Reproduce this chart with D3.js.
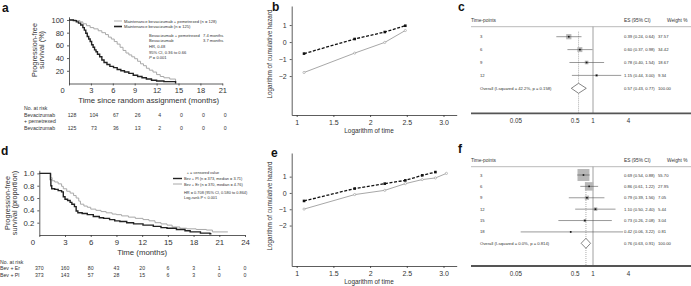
<!DOCTYPE html>
<html>
<head>
<meta charset="utf-8">
<script src="https://cdn.jsdelivr.net/npm/d3@7"></script>
<style>
  body { margin: 0; background: #fff; }
  svg { display: block; font-family: "Liberation Sans", Arial, sans-serif; }
  .axis path, .axis line { stroke: #333; stroke-width: 0.8; }
  .axis text { fill: #333; font-family: "Liberation Sans", Arial, sans-serif; }
</style>
</head>
<body>
<svg id="fig" width="691" height="286"></svg>
<script>
// ---- panel a : Kaplan-Meier, maintenance trial ----
const aXTicks = [0, 3, 6, 9, 12, 15, 18, 21];
const aYTicks = [20, 40, 60, 80, 100];
// [months, % progression-free]
const aPem = [[0,100],[1.0,99],[1.5,97],[1.9,94],[2.4,91],[2.9,88],[3.4,86],[4.0,83],[4.5,80],[5.0,77],[5.4,73],[5.8,70],[6.2,66],[6.6,62],[7.0,57],[7.4,52],[7.8,48],[8.2,45],[8.6,42],[9.0,39],[9.4,35],[9.8,31],[10.2,28],[10.6,24],[11.0,21],[11.5,18],[12.0,14],[12.5,11],[13.0,9],[13.8,7],[14.6,0]];
const aBev = [[0,100],[0.6,99],[1.0,97],[1.3,95],[1.6,92],[1.9,88],[2.1,84],[2.3,79],[2.5,74],[2.7,70],[2.9,66],[3.1,61],[3.3,57],[3.5,53],[3.7,50],[3.9,46],[4.2,42],[4.5,37],[4.8,33],[5.2,30],[5.6,27],[6.1,25],[6.6,22],[7.1,20],[7.6,18],[8.2,16],[8.8,13],[9.4,11],[10.0,9],[10.6,7],[11.3,5],[12.0,4],[13.0,3],[14.6,0]];
const aRiskPem = [128, 104, 67, 26, 4, 0, 0, 0];
const aRiskBev = [125, 73, 36, 13, 2, 0, 0, 0];
const aLegend = ['Maintenance bevacizumab + pemetrexed (n = 128)', 'Maintenance bevacizumab (n = 125)'];
const aStats = [['Bevacizumab + pemetrexed', '7.4 months'], ['Bevacizumab', '3.7 months'], ['HR, 0.48', ''], ['95% CI, 0.36 to 0.66', ''], ['P = 0.001', '']];

// ---- panel d : Kaplan-Meier, Bev + Er vs Bev + Pl ----
const dXTicks = [0, 3, 6, 9, 12, 15, 18, 21, 24];
const dYTicks = [0.2, 0.4, 0.6, 0.8, 1.0];
const dEr = [[0,1],[1.3,1],[1.35,0.93],[1.5,0.88],[1.8,0.86],[2.2,0.83],[2.6,0.79],[2.8,0.75],[3.2,0.71],[3.6,0.68],[4.0,0.64],[4.3,0.6],[4.6,0.55],[4.8,0.5],[5.2,0.47],[5.6,0.45],[6.0,0.42],[6.6,0.40],[7.2,0.38],[7.8,0.36],[8.5,0.34],[9.0,0.33],[9.6,0.31],[10.4,0.29],[11.2,0.27],[12.1,0.25],[12.8,0.23],[13.5,0.20],[14.2,0.18],[14.9,0.16],[15.5,0.13],[16.4,0.11],[17.2,0.10],[18.3,0.09],[19.5,0.08],[20.2,0.05],[22.0,0.05]];
const dPl = [[0,1],[1.25,1],[1.3,0.9],[1.35,0.8],[1.45,0.75],[1.8,0.74],[2.2,0.72],[2.6,0.70],[2.8,0.62],[3.0,0.58],[3.3,0.56],[3.6,0.53],[3.8,0.50],[4.1,0.46],[4.3,0.39],[4.5,0.36],[5.0,0.35],[5.6,0.33],[6.3,0.30],[7.0,0.28],[7.5,0.27],[8.2,0.25],[8.8,0.23],[9.4,0.22],[10.2,0.20],[11.0,0.18],[12.1,0.16],[13.3,0.14],[14.2,0.12],[14.9,0.11],[16.0,0.09],[17.0,0.07],[17.6,0.05],[18.8,0.03],[19.9,0.02],[20.0,0.01]];
const dRiskEr = [370, 160, 80, 43, 20, 6, 3, 1, 0];
const dRiskPl = [373, 143, 57, 28, 15, 6, 3, 0, 0];
const dLegend = ['Bev + Pl (n = 373, median = 3.71)', 'Bev + Er (n = 370, median = 4.76)'];
const dStats = ['HR = 0.708 (95% CI, 0.580 to 0.864)', 'Log-rank P < 0.001'];

// ---- panels b, e : log cumulative hazard ----
const hazTicksX = [1, 1.5, 2, 2.5, 3.0];
const hazTicksY = [-2, -1, 0, 1];
const bLogT = [1.10, 1.79, 2.20, 2.48];
const bBlack = [-0.68, 0.18, 0.59, 0.96];
const bGrey = [-1.79, -0.65, -0.02, 0.68];
const eLogTBlack = [1.10, 1.79, 2.20, 2.48, 2.71, 2.89];
const eBlack = [-0.49, 0.27, 0.57, 0.77, 1.08, 1.28];
const eLogTGrey = [1.10, 1.79, 2.20, 2.48, 2.71, 2.89, 3.04];
const eGrey = [-0.99, -0.10, 0.16, 0.57, 0.82, 0.92, 1.20];

// ---- panels c, f : forest plots ----
const forestTicks = [0.05, 0.5, 1, 4];
const cLabels = ['3', '6', '9', '12'];
const cES = [0.39, 0.60, 0.78, 1.15];
const cLo = [0.24, 0.37, 0.40, 0.44];
const cHi = [0.64, 0.98, 1.54, 3.00];
const cW = [37.57, 34.42, 18.67, 9.34];
const cOverall = [0.57, 0.43, 0.77];
const cOverallLabel = 'Overall (I-squared = 42.2%, p = 0.158)';
const fLabels = ['3', '6', '9', '12', '15', '18'];
const fES = [0.69, 0.86, 0.79, 1.10, 0.73, 0.42];
const fLo = [0.54, 0.61, 0.39, 0.50, 0.26, 0.06];
const fHi = [0.88, 1.22, 1.56, 2.40, 2.08, 3.22];
const fW = [55.70, 27.95, 7.05, 5.44, 3.04, 0.81];
const fOverall = [0.76, 0.63, 0.91];
const fOverallLabel = 'Overall (I-squared = 0.0%, p = 0.814)';

const svg = d3.select('#fig');
const ink = '#333', grey = '#a8a8a8';

function label(g, x, y, s, size, opts = {}) {
  const t = g.append('text').attr('x', x).attr('y', y)
    .attr('font-size', size).attr('fill', opts.fill || ink)
    .attr('text-anchor', opts.anchor || 'start').text(s);
  if (opts.weight) t.attr('font-weight', opts.weight);
  if (opts.rotate) t.attr('transform', `rotate(-90,${x},${y})`);
  return t;
}

// panel letters
[['a',2,12],['b',272,11],['c',458,11],['d',1,155],['e',271,157],['f',458,153]].forEach(([s,x,y]) =>
  label(svg, x, y, s, 12, {weight: 'bold', fill: '#111'}));

// ---------- Kaplan-Meier panels ----------
function drawKM(cfg) {
  const g = svg.append('g');
  const x = d3.scaleLinear(cfg.xDomain, cfg.xRange);
  const y = d3.scaleLinear(cfg.yDomain, cfg.yRange);

  g.append('g').attr('class', 'axis').attr('transform', `translate(0,${cfg.yRange[0]})`)
    .call(d3.axisBottom(x).tickValues(cfg.xTicks).tickSize(2).tickSizeOuter(0).tickPadding(2))
    .call(a => a.selectAll('text').attr('font-size', cfg.tickFont))
    .call(a => a.selectAll('.tick').filter(d => d === 0).select('text').attr('x', -7));
  g.append('g').attr('class', 'axis').attr('transform', `translate(${cfg.xRange[0]},0)`)
    .call(d3.axisLeft(y).tickValues(cfg.yTicks).tickSize(2).tickSizeOuter(0).tickPadding(3)
      .tickFormat(cfg.yFormat))
    .call(a => a.selectAll('text').attr('font-size', cfg.tickFont));

  const line = d3.line().curve(d3.curveStepAfter).x(d => x(d[0])).y(d => y(d[1]));
  g.append('path').datum(cfg.greyCurve).attr('d', line)
    .attr('fill', 'none').attr('stroke', grey).attr('stroke-width', 1);
  g.append('path').datum(cfg.blackCurve).attr('d', line)
    .attr('fill', 'none').attr('stroke', '#222').attr('stroke-width', 1.4);

  // axis titles
  label(g, (cfg.xRange[0] + cfg.xRange[1]) / 2 + cfg.xTitleShift, cfg.xTitleY, cfg.xTitle, cfg.titleFont, {anchor: 'middle'});
  cfg.yTitle.forEach((s, i) =>
    label(g, cfg.yTitleX + i * 6.5, cfg.yTitleY, s, cfg.titleFont - 0.5, {anchor: 'middle', rotate: true}));

  // number at risk
  label(g, cfg.riskX, cfg.riskY[0], 'No. at risk', 5.2);
  cfg.riskRows.forEach((row, r) => {
    row.name.forEach((n, k) => label(g, cfg.riskX, cfg.riskY[r + 1] + k * 6, n, 5.2));
    row.vals.forEach((v, i) =>
      label(g, x(cfg.xTicks[i]) + cfg.riskShift, cfg.riskY[r + 1], v, 5.2, {anchor: 'middle'}));
  });
  return {g, x, y};
}

// panel a
const pa = drawKM({
  xDomain: [0, 21], xRange: [69, 222.3], yDomain: [0, 105], yRange: [83.5, 16.8],
  xTicks: aXTicks, yTicks: aYTicks, yFormat: d => d, tickFont: 7.5, titleFont: 7.8,
  greyCurve: aPem, blackCurve: aBev,
  xTitle: 'Time since random assignment (months)', xTitleY: 102.5, xTitleShift: 3,
  yTitle: ['Progression-free', 'survival (%)'], yTitleX: 37, yTitleY: 50,
  riskX: 24, riskY: [110, 116.5, 130], riskShift: 3,
  riskRows: [{name: ['Bevacizumab', '+ pemetrexed'], vals: aRiskPem}, {name: ['Bevacizumab'], vals: aRiskBev}]
});
// panel a legend
[[grey, 0.9], ['#222', 1.6]].forEach(([c, w], i) => {
  pa.g.append('line').attr('x1', 114).attr('x2', 122).attr('y1', 21 + i * 5.5).attr('y2', 21 + i * 5.5)
    .attr('stroke', c).attr('stroke-width', w);
  label(pa.g, 124, 22.5 + i * 5.5, aLegend[i], 4.1);
});
aStats.forEach(([l, r], i) => {
  const yy = [36.5, 42, 48, 53.5, 59][i];
  const t = label(pa.g, 149, yy, '', 4.1);
  if (l.startsWith('P')) {
    t.append('tspan').attr('font-style', 'italic').text('P');
    t.append('tspan').text(l.slice(1));
  } else t.text(l);
  if (r) label(pa.g, 203, yy, r, 4.1);
});

// panel d
const pd = drawKM({
  xDomain: [0, 24], xRange: [39.3, 245], yDomain: [0, 1.05], yRange: [235, 170.3],
  xTicks: dXTicks, yTicks: dYTicks, yFormat: d3.format('.1f'), tickFont: 7.8, titleFont: 7.8,
  greyCurve: dEr, blackCurve: dPl,
  xTitle: 'Time (months)', xTitleY: 255, xTitleShift: 0,
  yTitle: ['Progression-free', 'survival (proportion)'], yTitleX: 10, yTitleY: 203,
  riskX: 0, riskY: [263.5, 270, 277], riskShift: 0,
  riskRows: [{name: ['Bev + Er'], vals: dRiskEr}, {name: ['Bev + Pl'], vals: dRiskPl}]
});
label(pd.g, 203, 173.5, '+ = censored value', 3.8, {anchor: 'middle'});
[['#222', 1.4], [grey, 1]].forEach(([c, w], i) => {
  pd.g.append('line').attr('x1', 173).attr('x2', 182).attr('y1', 178.5 + i * 5.5).attr('y2', 178.5 + i * 5.5)
    .attr('stroke', c).attr('stroke-width', w);
  label(pd.g, 184, 180 + i * 5.5, dLegend[i], 3.9);
});
label(pd.g, 184, 193.5, dStats[0], 3.9);
label(pd.g, 184, 198.5, dStats[1], 3.9);

// ---------- log cumulative hazard panels ----------
function drawHaz(cfg) {
  const g = svg.append('g');
  const x = d3.scaleLinear([0.932, 3.18], [291.7, 456.7]);
  const y = d3.scaleLinear(cfg.yDomain, cfg.yRange);
  g.append('g').attr('class', 'axis').attr('transform', `translate(0,${cfg.yRange[0]})`)
    .call(d3.axisBottom(x).tickValues(hazTicksX).tickSize(2).tickSizeOuter(0).tickPadding(3)
      .tickFormat(d => d === 3 ? '3.0' : d))
    .call(a => a.selectAll('text').attr('font-size', 7));
  g.append('g').attr('class', 'axis').attr('transform', `translate(291.7,0)`)
    .call(d3.axisLeft(y).tickValues(hazTicksY).tickSize(2).tickSizeOuter(0).tickPadding(3)
      .tickFormat(d => d < 0 ? '\u2212' + (-d) : d))
    .call(a => a.selectAll('text').attr('font-size', 7));

  const line = d3.line().x(d => x(d[0])).y(d => y(d[1]));
  const grey2 = d3.zip(cfg.greyX, cfg.greyY), black2 = d3.zip(cfg.blackX, cfg.blackY);
  g.append('path').datum(grey2).attr('d', line).attr('fill', 'none').attr('stroke', grey).attr('stroke-width', 1);
  g.selectAll('.gm').data(grey2).join('circle').attr('cx', d => x(d[0])).attr('cy', d => y(d[1]))
    .attr('r', 1.1).attr('fill', '#fff').attr('stroke', '#999').attr('stroke-width', 0.6);
  g.append('path').datum(black2).attr('d', line).attr('fill', 'none').attr('stroke', '#111')
    .attr('stroke-width', 1.3).attr('stroke-dasharray', '3,1.6');
  g.selectAll('.bm').data(black2).join('rect').attr('x', d => x(d[0]) - 1.3).attr('y', d => y(d[1]) - 1.3)
    .attr('width', 2.6).attr('height', 2.6).attr('fill', '#111');

  label(g, 369, cfg.yRange[0] + 18, 'Logarithm of time', 6.4, {anchor: 'middle'});
  label(g, 272, cfg.yTitleY, 'Logarithm of cumulative hazard', 6.4, {anchor: 'middle', rotate: true});
}
drawHaz({yDomain: [-4.29, 2.12], yRange: [115, 6], yTitleY: 54,
  blackX: bLogT, blackY: bBlack, greyX: bLogT, greyY: bGrey});
drawHaz({yDomain: [-4.48, 2.45], yRange: [266, 153], yTitleY: 206,
  blackX: eLogTBlack, blackY: eBlack, greyX: eLogTGrey, greyY: eGrey});

// ---------- forest plots ----------
function drawForest(cfg) {
  const g = svg.append('g');
  const x = d3.scaleLog([0.05, 1], [516, 593]);
  const y = d3.scalePoint(cfg.labels.concat(['Overall']), cfg.rowRange);
  const left = 471, right = 691;

  label(g, left, cfg.headY, 'Time-points', 4.8);
  label(g, 624, cfg.headY, 'ES (95% CI)', 4.8);
  label(g, 667, cfg.headY, 'Weight %', 4.8);
  g.append('line').attr('x1', left).attr('x2', right).attr('y1', cfg.lineY).attr('y2', cfg.lineY)
    .attr('stroke', '#bbb').attr('stroke-width', 1);

  // reference line at 1 and dashed line at overall estimate
  g.append('line').attr('x1', x(1)).attr('x2', x(1)).attr('y1', cfg.lineY).attr('y2', cfg.axisY)
    .attr('stroke', '#888').attr('stroke-width', 0.8);
  g.append('line').attr('x1', x(cfg.overall[0])).attr('x2', x(cfg.overall[0]))
    .attr('y1', y(cfg.labels[0]) - 5).attr('y2', cfg.axisY)
    .attr('stroke', '#777').attr('stroke-width', 0.6).attr('stroke-dasharray', '1,1');

  cfg.labels.forEach((lab, i) => {
    const yy = y(lab);
    const side = cfg.boxK * Math.sqrt(cfg.w[i]);
    g.append('rect').attr('x', x(cfg.es[i]) - side / 2).attr('y', yy - side / 2)
      .attr('width', side).attr('height', side).attr('fill', '#b8b8b8');
    g.append('line').attr('x1', x(cfg.lo[i])).attr('x2', x(cfg.hi[i])).attr('y1', yy).attr('y2', yy)
      .attr('stroke', '#555').attr('stroke-width', 0.6);
    g.append('rect').attr('x', x(cfg.es[i]) - 0.8).attr('y', yy - 0.8).attr('width', 1.6).attr('height', 1.6)
      .attr('fill', '#111');
    label(g, 480, yy + 1.5, lab, 4.2);
    label(g, 624, yy + 1.5, `${cfg.es[i].toFixed(2)} (${cfg.lo[i].toFixed(2)}, ${cfg.hi[i].toFixed(2)})`, 4.2);
    label(g, 658, yy + 1.5, cfg.w[i].toFixed(2), 4.2);
  });
  const yo = y('Overall');
  const [e, lo, hi] = cfg.overall;
  g.append('path').attr('d', `M${x(lo)},${yo}L${x(e)},${yo - 5}L${x(hi)},${yo}L${x(e)},${yo + 5}Z`)
    .attr('fill', '#fff').attr('stroke', '#333').attr('stroke-width', 0.6);
  label(g, 480, yo + 1.5, cfg.overallLabel, 4.2);
  label(g, 624, yo + 1.5, `${e.toFixed(2)} (${lo.toFixed(2)}, ${hi.toFixed(2)})`, 4.2);
  label(g, 658, yo + 1.5, '100.00', 4.2);

  // axis
  g.append('line').attr('x1', left).attr('x2', right).attr('y1', cfg.axisY).attr('y2', cfg.axisY)
    .attr('stroke', '#555').attr('stroke-width', 1.8);
  forestTicks.forEach(t => label(g, x(t), cfg.axisY + 10, t, 6.3, {anchor: 'middle'}));
}
drawForest({labels: cLabels, es: cES, lo: cLo, hi: cHi, w: cW, overall: cOverall, overallLabel: cOverallLabel,
  headY: 22, lineY: 26.7, rowRange: [36.7, 88.3], axisY: 113.3, boxK: 0.85});
drawForest({labels: fLabels, es: fES, lo: fLo, hi: fHi, w: fW, overall: fOverall, overallLabel: fOverallLabel,
  headY: 162, lineY: 166.7, rowRange: [175, 243.3], axisY: 266, boxK: 1.6});
</script>
</body>
</html>
